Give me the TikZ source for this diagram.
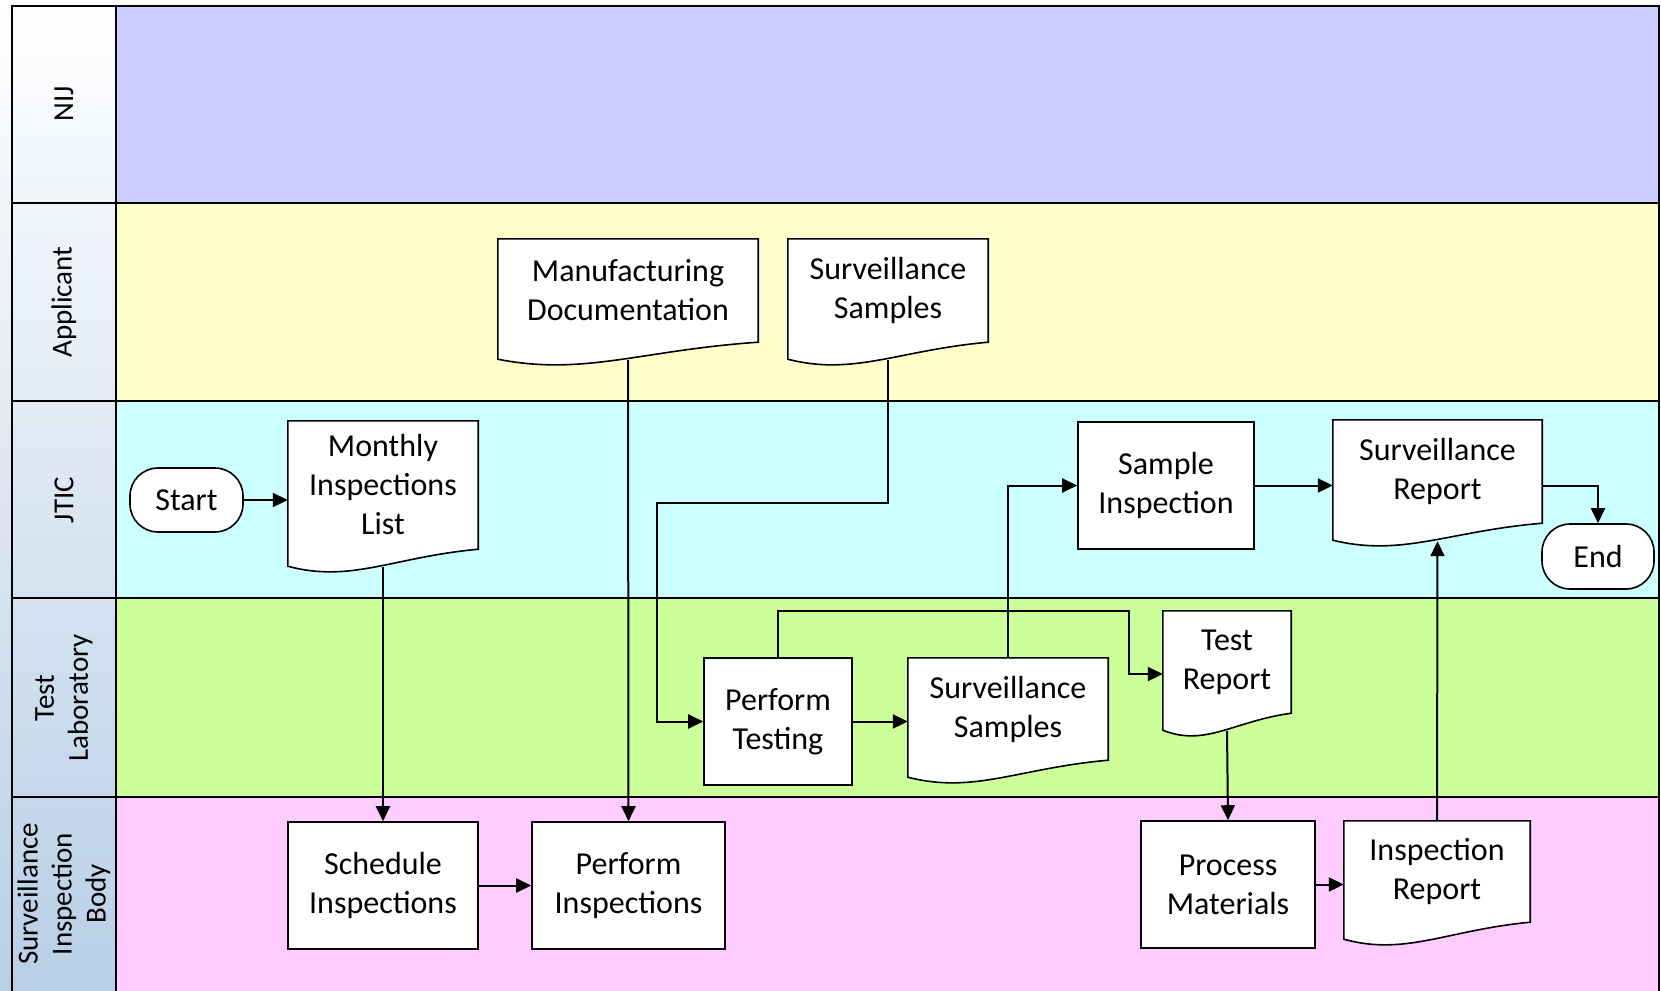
\documentclass[tikz,border=0pt]{standalone}
\usepackage{fontspec}
\setmainfont{Carlito}
\usepackage{tikz}
\usetikzlibrary{arrows.meta,positioning,calc,backgrounds}

\definecolor{lanenij}{HTML}{CCCCFF}
\definecolor{laneapp}{HTML}{FFFFCC}
\definecolor{lanejtic}{HTML}{CCFFFF}
\definecolor{lanelab}{HTML}{CCFF99}
\definecolor{lanesib}{HTML}{FFCCFF}
\definecolor{labelblue}{HTML}{B8CFE6}

\begin{document}
\begin{tikzpicture}[x=1pt,y=-1pt,
  process/.style={draw, fill=white, line width=1.6pt, inner sep=0pt,
    align=center, font=\fontsize{32}{39}\selectfont,
    execute at begin node={\rule{0pt}{34pt}}},
  doc/.style={inner sep=0pt, align=center, font=\fontsize{32}{39}\selectfont,
    execute at begin node={\rule{0pt}{34pt}}},
  terminal/.style={draw, fill=white, line width=1.6pt, inner sep=0pt,
    rounded corners=28pt, font=\fontsize{32}{39}\selectfont},
  docline/.style={draw, fill=white, line width=1.6pt},
  lanelabel/.style={rotate=90, align=center, font=\fontsize{29}{34}\selectfont},
  laneline/.style={line width=2.2pt},
  flow/.style={line width=2pt, -{Triangle[length=15pt,width=14pt]}}
]
\useasboundingbox (0,0) rectangle (1661,990);

% swim lanes
\begin{scope}[on background layer]
\shade[top color=white, bottom color=labelblue] (0,0) rectangle (116,990);
\fill[lanenij] (116,6) rectangle (1659,203);
\fill[laneapp] (116,203) rectangle (1659,401);
\fill[lanejtic] (116,401) rectangle (1659,598);
\fill[lanelab] (116,598) rectangle (1659,797);
\fill[lanesib] (116,797) rectangle (1659,1000);
\draw[laneline] (12,1000) -- (12,6) -- (1659,6) -- (1659,1000);
\draw[laneline] (116,6) -- (116,1000);
\draw[laneline] (12,203) -- (1659,203);
\draw[laneline] (12,401) -- (1659,401);
\draw[laneline] (12,598) -- (1659,598);
\draw[laneline] (12,797) -- (1659,797);
\end{scope}

\node[lanelabel] (l-nij) at (64,104) {NIJ};
\node[lanelabel] (l-app) at (64,302) {Applicant};
\node[lanelabel] (l-jtic) at (64,500) {JTIC};
\node[lanelabel] (l-lab) at (64,698) {Test\\Laboratory};
\node[lanelabel] (l-sib) at (64,894) {Surveillance\\Inspection\\Body};

% steps
\node[terminal, minimum width=113, minimum height=64] (start) at (186.5,500) {Start};
\node[doc, minimum width=190, minimum height=128] (mil) at (383,485) {Monthly\\Inspections\\List};
\node[doc, minimum width=260, minimum height=103] (mfg) at (628,290.5) {Manufacturing\\Documentation};
\node[doc, minimum width=200, minimum height=103] (ssa) at (888,290.5) {Surveillance\\Samples};
\node[process, minimum width=176, minimum height=127] (sins) at (1166,485.5) {Sample\\Inspection};
\node[doc, minimum width=209, minimum height=103] (srep) at (1437.5,471.5) {Surveillance\\Report};
\node[terminal, minimum width=112, minimum height=65] (end) at (1598,556.5) {End};
\node[process, minimum width=148, minimum height=127] (ptest) at (778,721.5) {Perform\\Testing};
\node[doc, minimum width=200, minimum height=102] (ssl) at (1008,709) {Surveillance\\Samples};
\node[doc, minimum width=128, minimum height=102] (trep) at (1227,662) {Test\\Report};
\node[process, minimum width=190, minimum height=127] (sched) at (383,885.5) {Schedule\\Inspections};
\node[process, minimum width=193, minimum height=127] (pinsp) at (628.5,885.5) {Perform\\Inspections};
\node[process, minimum width=174, minimum height=127] (proc) at (1228,884.5) {Process\\Materials};
\node[doc, minimum width=186, minimum height=101] (irep) at (1437,871.5) {Inspection\\Report};

% document outlines
\begin{scope}[on background layer]
\foreach \n in {mil,mfg,ssa,ssl,srep,trep,irep}
  \draw[docline] (\n.south east) -- (\n.north east) -- (\n.north west)
    -- ([yshift=-17pt]\n.south west)
    .. controls ($(\n.south west)!.33!(\n.south east)+(0,34)$)
    and ($(\n.south west)!.55!(\n.south east)+(0,8)$) .. (\n.south east) -- cycle;
\end{scope}

\coordinate (bend1) at (657,503);
\coordinate (bend2) at (1129,611);

% connectors
\draw[flow] (start.east) -- (start.east -| mil.west);
\draw[flow] ([yshift=-18pt]mil.south) -- (sched.north);
\draw[flow] (sched.east) -- (pinsp.west);
\draw[flow] ([yshift=-18pt]mfg.south) -- (pinsp.north);
\draw[flow] ([yshift=-18pt]ssa.south) |- (bend1) |- (ptest.west);
\draw[flow] (ptest.east) -- (ptest.east -| ssl.west);
\draw[flow] (ptest.north) |- (bend2) |- ([yshift=-12pt]trep.west);
\draw[flow] (ssl.north) |- (sins.west);
\draw[flow] (sins.east) -- (sins.east -| srep.west);
\draw[flow] (srep.east |- sins.east) -| (end.north);
\draw[flow] ([yshift=-18pt]trep.south) -- (proc.north);
\draw[flow] (proc.east) -- (proc.east -| irep.west);
\draw[flow] (irep.north) -- ([yshift=-18pt]srep.south);
\end{tikzpicture}
\end{document}
